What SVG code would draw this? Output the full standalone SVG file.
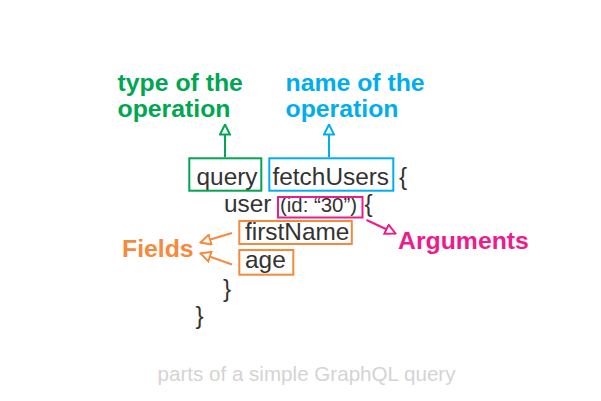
<svg xmlns="http://www.w3.org/2000/svg" width="601" height="401" viewBox="0 0 601 401">
<defs>
<style>
.code{font-family:"Liberation Sans",Arial,sans-serif;font-size:24.4px;fill:#333333}
.small{font-size:20.4px}
.lbl{font-family:"Liberation Sans",Arial,sans-serif;font-size:24.8px;font-weight:bold}
.box{fill:none;stroke-width:2}
.ln{fill:none;stroke-width:2}
.cap{font-family:"Liberation Sans",Arial,sans-serif;font-size:20.6px;fill:#d4d4d4}
</style>
<marker id="mg" viewBox="0 0 12 12" refX="11" refY="6" markerWidth="12" markerHeight="12" markerUnits="userSpaceOnUse" orient="auto"><path d="M1,1 L11,6 L1,11 Z" fill="#fff" stroke="#00a651" stroke-width="2"/></marker>
<marker id="mb" viewBox="0 0 12 12" refX="11" refY="6" markerWidth="12" markerHeight="12" markerUnits="userSpaceOnUse" orient="auto"><path d="M1,1 L11,6 L1,11 Z" fill="#fff" stroke="#00aeef" stroke-width="2"/></marker>
<marker id="mo" viewBox="0 0 12 12" refX="11" refY="6" markerWidth="12" markerHeight="12" markerUnits="userSpaceOnUse" orient="auto"><path d="M1,1 L11,6 L1,11 Z" fill="#fff" stroke="#f7893a" stroke-width="2"/></marker>
<marker id="mp" viewBox="0 0 12 12" refX="11" refY="6" markerWidth="12" markerHeight="12" markerUnits="userSpaceOnUse" orient="auto"><path d="M1,1 L11,6 L1,11 Z" fill="#fff" stroke="#ec1c8c" stroke-width="2"/></marker>
</defs>
<rect width="601" height="401" fill="#ffffff"/>
<g id="code">
<text class="code" x="196.5" y="185">query</text>
<text class="code" x="272.5" y="185">fetchUsers</text>
<text class="code" x="399" y="185">{</text>
<text class="code" x="224" y="212">user</text>
<text class="code small" x="280" y="212">(id: “30”)</text>
<text class="code" x="364.5" y="212">{</text>
<text class="code" x="245" y="239.5">firstName</text>
<text class="code" x="245" y="268">age</text>
<text class="code" x="223" y="296.5">}</text>
<text class="code" x="195.5" y="324">}</text>
</g>
<g id="operation-type">
<rect class="box" x="189.3" y="158.3" width="72" height="32.4" stroke="#00a651"/>
<text class="lbl" x="117.5" y="90.5" fill="#00a651">type of the</text>
<text class="lbl" x="117.5" y="117" fill="#00a651">operation</text>
</g>
<g id="operation-name">
<rect class="box" x="269.3" y="158.3" width="124" height="32.4" stroke="#00aeef"/>
<text class="lbl" x="285.5" y="90.5" fill="#00aeef">name of the</text>
<text class="lbl" x="285.5" y="117" fill="#00aeef">operation</text>
</g>
<g id="arguments">
<rect class="box" x="278" y="197" width="84.5" height="20.5" stroke="#ec1c8c"/>
<text class="lbl" x="398" y="248.5" fill="#ec1c8c">Arguments</text>
</g>
<g id="fields">
<rect class="box" x="239.3" y="221" width="112.5" height="23" stroke="#f7893a"/>
<rect class="box" x="239.3" y="250" width="54" height="24.7" stroke="#f7893a"/>
<text class="lbl" x="122" y="256.5" fill="#f7893a">Fields</text>
</g>
<g id="connectors">
<line class="ln" x1="225" y1="157.3" x2="225" y2="124.5" stroke="#00a651" marker-end="url(#mg)"/>
<line class="ln" x1="329" y1="157.3" x2="329" y2="124.5" stroke="#00aeef" marker-end="url(#mb)"/>
<line class="ln" x1="232" y1="233" x2="200.5" y2="242.5" stroke="#f7893a" marker-end="url(#mo)"/>
<line class="ln" x1="232" y1="264.5" x2="200.5" y2="253.3" stroke="#f7893a" marker-end="url(#mo)"/>
<line class="ln" x1="366.5" y1="220" x2="395.5" y2="233.5" stroke="#ec1c8c" marker-end="url(#mp)"/>
</g>
<text class="cap" x="157.5" y="381">parts of a simple GraphQL query</text>
</svg>
